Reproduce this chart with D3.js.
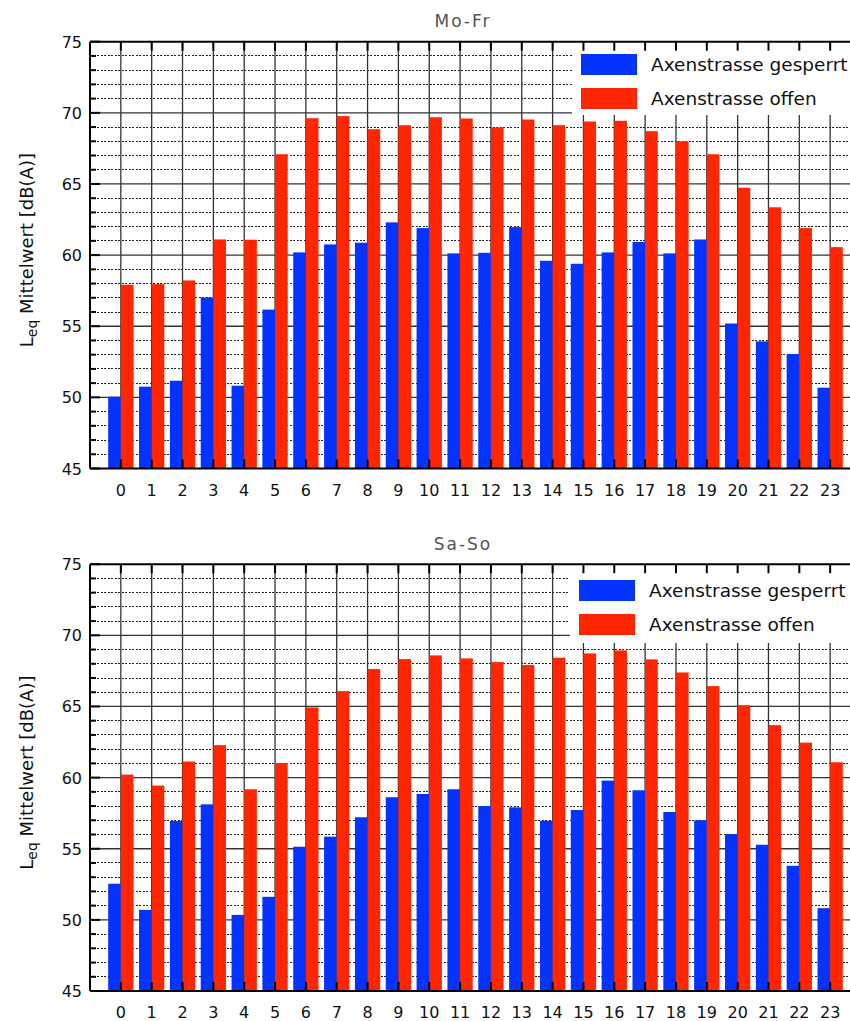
<!DOCTYPE html>
<meta charset="utf-8" />
<title>Leq Mittelwert Axenstrasse</title>
<style>
  body { margin: 0; background: #fff; }
  svg { display: block; font-family: "DejaVu Sans", sans-serif; }
  .tick-label { font-size: 16px; fill: #111; }
  .title { font-size: 17px; fill: #555; letter-spacing: 2px; }
  .ylabel { font-size: 18px; fill: #111; }
  .legend-text { font-size: 18.5px; fill: #111; }
</style>
<body>
<svg width="850" height="1021"></svg>
<script src="https://d3js.org/d3.v7.min.js"></script>
<script>
  const hours = [0,1,2,3,4,5,6,7,8,9,10,11,12,13,14,15,16,17,18,19,20,21,22,23];
  const seriesNames = ["Axenstrasse gesperrt", "Axenstrasse offen"];
  const seriesColors = ["#0433ff", "#ff2600"];
  const yMajor = [45, 50, 55, 60, 65, 70, 75];
  const yMinor = [46,47,48,49,51,52,53,54,56,57,58,59,61,62,63,64,66,67,68,69,71,72,73,74];

  const moFrGesperrt = [50.05,50.75,51.17,57.02,50.82,56.17,60.19,60.75,60.87,62.3,61.9,60.12,60.16,61.97,59.6,59.39,60.19,60.92,60.12,61.1,55.19,53.94,53.05,50.68];
  const moFrOffen = [57.91,57.96,58.22,61.1,61.08,67.09,69.62,69.77,68.85,69.13,69.69,69.6,68.97,69.53,69.13,69.39,69.44,68.71,68.0,67.09,64.74,63.36,61.9,60.56];
  const saSoGesperrt = [52.54,50.7,56.95,58.12,50.35,51.62,55.14,55.85,57.21,58.62,58.85,59.18,58.0,57.91,56.97,57.72,59.79,59.11,57.58,57.0,56.03,55.28,53.8,50.82];
  const saSoOffen = [60.21,59.44,61.13,62.28,59.18,61.03,64.93,66.08,67.63,68.33,68.59,68.38,68.12,67.91,68.43,68.73,68.94,68.31,67.39,66.43,65.09,63.69,62.46,61.08];

  const svg = d3.select("svg");
  const left = 90, right = 861;
  const x = d3.scaleLinear().domain([-1, 24]).range([left, right]);
  const barW = x(0.41) - x(0);

  // two panels, same layout, shifted vertically
  drawPanel({ top: 41.7, bottom: 468.5, title: "Mo-Fr", titleY: 26.5,
              series: [moFrGesperrt, moFrOffen], legend: { x: 572, y: 42, h: 73, rx: 581, ry: 54, tx: 651 } });
  drawPanel({ top: 564.2, bottom: 991, title: "Sa-So", titleY: 550,
              series: [saSoGesperrt, saSoOffen], legend: { x: 570, y: 564, h: 79, rx: 579, ry: 580, tx: 649 } });

  function drawPanel(p) {
    const y = d3.scaleLinear().domain([45, 75]).range([p.bottom, p.top]);
    const g = svg.append("g");

    // minor grid (dotted)
    g.append("g").selectAll("line").data(yMinor).join("line")
      .attr("x1", left).attr("x2", right)
      .attr("y1", d => y(d)).attr("y2", d => y(d))
      .attr("stroke", "#222").attr("stroke-width", 1)
      .attr("stroke-dasharray", "2,1.5")
      .attr("shape-rendering", "crispEdges");

    // major grid
    g.append("g").selectAll("line").data(yMajor.slice(1, -1)).join("line")
      .attr("x1", left).attr("x2", right)
      .attr("y1", d => y(d)).attr("y2", d => y(d))
      .attr("stroke", "#333").attr("stroke-width", 1.3);

    // vertical grid at each hour
    g.append("g").selectAll("line").data(hours).join("line")
      .attr("x1", d => x(d)).attr("x2", d => x(d))
      .attr("y1", p.top).attr("y2", p.bottom)
      .attr("stroke", "#333").attr("stroke-width", 1.3);

    // bars
    p.series.forEach((vals, si) => {
      g.append("g").selectAll("rect").data(hours).join("rect")
        .attr("x", d => si === 0 ? x(d) - barW : x(d))
        .attr("width", barW)
        .attr("y", d => y(vals[d]))
        .attr("height", d => p.bottom - y(vals[d]))
        .attr("fill", seriesColors[si]);
    });

    // legend box
    const L = p.legend;
    g.append("rect").attr("x", L.x).attr("y", L.y).attr("width", right - L.x).attr("height", L.h).attr("fill", "#fff");
    seriesNames.forEach((name, i) => {
      g.append("rect").attr("x", L.rx).attr("y", L.ry + i * 34).attr("width", 56).attr("height", 21)
        .attr("fill", seriesColors[i]);
      g.append("text").attr("class", "legend-text").attr("x", L.tx).attr("y", L.ry + i * 34 + 17).text(name);
    });

    // frame
    g.append("line").attr("x1", left).attr("x2", right).attr("y1", p.top).attr("y2", p.top)
      .attr("stroke", "#000").attr("stroke-width", 2);
    g.append("line").attr("x1", left).attr("x2", right).attr("y1", p.bottom).attr("y2", p.bottom)
      .attr("stroke", "#000").attr("stroke-width", 2);
    g.append("line").attr("x1", left).attr("x2", left).attr("y1", p.top).attr("y2", p.bottom)
      .attr("stroke", "#000").attr("stroke-width", 2);

    // left ticks
    g.append("g").selectAll("line").data(yMajor).join("line")
      .attr("x1", left).attr("x2", left + 10)
      .attr("y1", d => y(d)).attr("y2", d => y(d))
      .attr("stroke", "#000").attr("stroke-width", 2);
    g.append("g").selectAll("line").data(yMinor).join("line")
      .attr("x1", left).attr("x2", left + 6)
      .attr("y1", d => y(d)).attr("y2", d => y(d))
      .attr("stroke", "#000").attr("stroke-width", 2);

    // top and bottom ticks
    g.append("g").selectAll("line").data(hours).join("line")
      .attr("x1", d => x(d)).attr("x2", d => x(d))
      .attr("y1", p.top).attr("y2", p.top + 9)
      .attr("stroke", "#000").attr("stroke-width", 2);
    g.append("g").selectAll("line").data(hours).join("line")
      .attr("x1", d => x(d)).attr("x2", d => x(d))
      .attr("y1", p.bottom).attr("y2", p.bottom - 9)
      .attr("stroke", "#000").attr("stroke-width", 2);

    // tick labels
    g.append("g").selectAll("text").data(yMajor).join("text")
      .attr("class", "tick-label")
      .attr("x", 82).attr("y", d => y(d) + 6)
      .attr("text-anchor", "end")
      .text(d => d);
    g.append("g").selectAll("text").data(hours).join("text")
      .attr("class", "tick-label")
      .attr("x", d => x(d)).attr("y", p.bottom + 27)
      .attr("text-anchor", "middle")
      .text(d => d);

    // title
    g.append("text").attr("class", "title")
      .attr("x", 463).attr("y", p.titleY)
      .attr("text-anchor", "middle").text(p.title);

    // y label
    const yl = g.append("text").attr("class", "ylabel")
      .attr("transform", `translate(33,${(p.top + p.bottom) / 2 - 5}) rotate(-90)`)
      .attr("text-anchor", "middle");
    yl.append("tspan").text("L");
    yl.append("tspan").attr("font-size", 14).attr("dy", 4).text("eq");
    yl.append("tspan").attr("dy", -4).text(" Mittelwert [dB(A)]");
  }
</script>
</body>
